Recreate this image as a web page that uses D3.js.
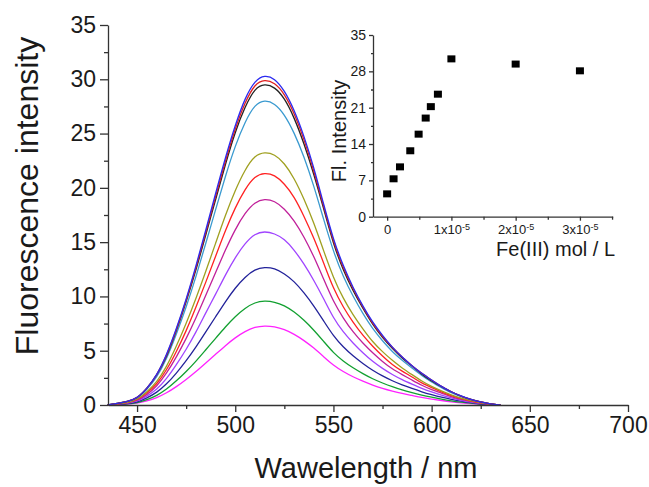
<!DOCTYPE html>
<html>
<head>
<meta charset="utf-8">
<script src="https://cdn.jsdelivr.net/npm/d3@7"></script>
<style>
  body { margin: 0; background: #fff; }
  svg { display: block; font-family: "Liberation Sans", Arial, sans-serif; }
  .axis .domain, .axis line { stroke: #333; stroke-width: 1.3; }
  .axis text { fill: #1a1a1a; }
</style>
</head>
<body>
<svg width="649" height="487"></svg>
<script>
// emission spectra, wavelength grid in nm
var wavelengths = [435, 440, 445, 450, 455, 460, 465, 470, 475, 480, 485, 490, 495, 500, 505, 510, 515, 520, 525, 530,
    535, 540, 545, 550, 555, 560, 565, 570, 575, 580, 585, 590, 595, 600, 605, 610, 615, 620, 625, 630, 635];

var specBlue = [0, 0.15, 0.30, 0.61, 1.5, 2.7, 4.6, 7.0, 9.7, 12.8, 16.1, 19.5, 22.8, 25.8, 28.3, 29.9, 30.4, 30.1, 29.0, 27.2,
    24.8, 21.9, 18.5, 15.2, 12.8, 10.8, 9.1, 7.6, 6.4, 5.3, 4.4, 3.6, 2.9, 2.3, 1.7, 1.2, 0.82, 0.52, 0.27, 0.09, 0];
var specRed = [0, 0.15, 0.30, 0.60, 1.5, 2.7, 4.5, 6.9, 9.6, 12.6, 15.9, 19.2, 22.5, 25.5, 27.9, 29.6, 30.0, 29.7, 28.7, 26.9,
    24.5, 21.6, 18.3, 15.0, 12.6, 10.7, 9.0, 7.5, 6.3, 5.3, 4.4, 3.6, 2.9, 2.3, 1.7, 1.2, 0.81, 0.51, 0.27, 0.09, 0];
var specBlack = [0, 0.15, 0.30, 0.59, 1.5, 2.7, 4.4, 6.8, 9.5, 12.4, 15.7, 18.9, 22.2, 25.2, 27.5, 29.2, 29.6, 29.3, 28.3, 26.5,
    24.1, 21.3, 18.1, 14.8, 12.4, 10.5, 8.9, 7.4, 6.2, 5.2, 4.3, 3.6, 2.8, 2.2, 1.7, 1.2, 0.80, 0.50, 0.27, 0.09, 0];
var specSky = [0, 0.14, 0.28, 0.56, 1.4, 2.5, 4.2, 6.5, 9.0, 11.8, 14.9, 18.0, 21.1, 23.9, 26.1, 27.7, 28.1, 27.8, 26.8, 25.1,
    22.9, 20.2, 17.1, 14.1, 11.8, 10.0, 8.4, 7.0, 5.9, 4.9, 4.1, 3.4, 2.7, 2.1, 1.6, 1.1, 0.76, 0.48, 0.25, 0.08, 0];
var specOlive = [0, 0.12, 0.23, 0.47, 1.2, 2.1, 3.5, 5.4, 7.5, 9.8, 12.3, 14.9, 17.5, 19.8, 21.7, 23.0, 23.3, 23.1, 22.3, 20.9,
    19.0, 16.8, 14.2, 11.7, 9.8, 8.3, 7.0, 5.8, 4.9, 4.1, 3.4, 2.8, 2.2, 1.7, 1.3, 0.93, 0.63, 0.40, 0.21, 0.07, 0];
var specRed2 = [0, 0.11, 0.21, 0.43, 1.1, 1.9, 3.2, 4.9, 6.8, 9.0, 11.3, 13.7, 16.1, 18.2, 19.9, 21.1, 21.4, 21.2, 20.4, 19.2,
    17.4, 15.4, 13.1, 10.7, 9.0, 7.6, 6.4, 5.4, 4.5, 3.7, 3.1, 2.6, 2.0, 1.6, 1.2, 0.86, 0.58, 0.36, 0.19, 0.06, 0];
var specPurple = [0, 0.10, 0.19, 0.38, 0.95, 1.7, 2.9, 4.4, 6.1, 8.0, 10.1, 12.2, 14.3, 16.2, 17.7, 18.7, 19.0, 18.8, 18.1, 17.0,
    15.5, 13.7, 11.6, 9.5, 8.0, 6.7, 5.7, 4.8, 4.0, 3.3, 2.8, 2.3, 1.8, 1.4, 1.1, 0.76, 0.51, 0.32, 0.17, 0.06, 0];
var specViolet = [0, 0.08, 0.16, 0.32, 0.80, 1.4, 2.4, 3.7, 5.1, 6.7, 8.5, 10.2, 12.0, 13.6, 14.9, 15.8, 16.0, 15.8, 15.3, 14.3,
    13.0, 11.5, 9.8, 8.0, 6.7, 5.7, 4.8, 4.0, 3.36, 2.8, 2.32, 1.92, 1.52, 1.2, 0.90, 0.64, 0.43, 0.27, 0.14, 0.05, 0];
var specNavy = [0, 0.06, 0.13, 0.25, 0.64, 1.14, 1.91, 2.92, 4.06, 5.33, 6.73, 8.13, 9.53, 10.8, 11.8, 12.5, 12.7, 12.6, 12.1, 11.4,
    10.35, 9.14, 7.75, 6.35, 5.33, 4.51, 3.81, 3.18, 2.67, 2.22, 1.84, 1.52, 1.21, 0.95, 0.71, 0.51, 0.34, 0.22, 0.11, 0.04, 0];
var specGreen = [0, 0.05, 0.10, 0.19, 0.48, 0.86, 1.44, 2.21, 3.07, 4.03, 5.09, 6.14, 7.2, 8.16, 8.93, 9.46, 9.6, 9.5, 9.17, 8.59,
    7.82, 6.91, 5.86, 4.8, 4.03, 3.41, 2.88, 2.4, 2.02, 1.68, 1.39, 1.15, 0.91, 0.72, 0.54, 0.38, 0.26, 0.16, 0.09, 0.03, 0];
var specMagenta = [0, 0.04, 0.07, 0.15, 0.37, 0.66, 1.10, 1.68, 2.34, 3.07, 3.87, 4.67, 5.48, 6.21, 6.79, 7.19, 7.3, 7.23, 6.97, 6.53,
    5.95, 5.26, 4.45, 3.65, 3.07, 2.59, 2.19, 1.83, 1.53, 1.28, 1.06, 0.88, 0.69, 0.55, 0.41, 0.29, 0.20, 0.12, 0.07, 0.02, 0];

var spectra = [specMagenta, specGreen, specNavy, specViolet, specPurple, specRed2, specOlive, specSky, specBlack, specRed, specBlue];
var spectraColors = ['#ff22ff', '#12a030', '#22229a', '#a044ff', '#c0209a', '#ff2222', '#a0a020', '#3a9ad0', '#222222', '#e02020', '#2b2bf0'];

var xTicks = [450, 500, 550, 600, 650, 700];
var xMinorTicks = [475, 525, 575, 625, 675];
var yTicks = [0, 5, 10, 15, 20, 25, 30, 35];
var yMinorTicks = [2.5, 7.5, 12.5, 17.5, 22.5, 27.5, 32.5];

// inset: titration points
var feConc = [0, 1e-6, 2e-6, 3.6e-6, 4.9e-6, 6e-6, 6.8e-6, 7.9e-6, 1e-5, 2e-5, 3e-5];
var flIntensity = [4.4, 7.3, 9.6, 12.7, 15.9, 19.0, 21.2, 23.6, 30.4, 29.4, 28.1];
var insetXTicks = [0, 1e-5, 2e-5, 3e-5];
var insetXMinor = [0.5e-5, 1.5e-5, 2.5e-5, 3.5e-5];
var insetYTicks = [0, 7, 14, 21, 28, 35];
var insetYMinor = [3.5, 10.5, 17.5, 24.5, 31.5];

var svg = d3.select('svg');

// main chart scales
var xMain = d3.scaleLinear().domain([435.2, 700]).range([108, 628]);
var yMain = d3.scaleLinear().domain([0, 35]).range([405, 25]);

var line = d3.line()
    .x(function (d) { return xMain(d[0]); })
    .y(function (d) { return yMain(d[1]); })
    .curve(d3.curveBasis);

svg.append('g').selectAll('path')
    .data(spectra)
    .enter()
    .append('path')
    .attr('d', function (s) { return line(wavelengths.map(function (w, i) { return [w, s[i]]; })); })
    .attr('fill', 'none')
    .attr('stroke', function (_, i) { return spectraColors[i]; })
    .attr('stroke-width', 1.3);

// main axes
svg.append('g').attr('class', 'axis')
    .attr('transform', 'translate(0,405)')
    .call(d3.axisBottom(xMain).tickValues(xTicks).tickSize(7).tickSizeOuter(0).tickPadding(5))
    .selectAll('text').style('font-size', '23px');
svg.append('g').attr('class', 'axis minor')
    .attr('transform', 'translate(0,405)')
    .call(d3.axisBottom(xMain).tickValues(xMinorTicks).tickSize(4).tickFormat(''))
    .select('.domain').remove();

svg.append('g').attr('class', 'axis')
    .attr('transform', 'translate(108,0)')
    .call(d3.axisLeft(yMain).tickValues(yTicks).tickSize(8).tickSizeOuter(0).tickPadding(4))
    .selectAll('text').style('font-size', '23px');
svg.append('g').attr('class', 'axis minor')
    .attr('transform', 'translate(108,0)')
    .call(d3.axisLeft(yMain).tickValues(yMinorTicks).tickSize(4).tickFormat(''))
    .select('.domain').remove();

svg.append('text')
    .attr('x', 366).attr('y', 478)
    .attr('text-anchor', 'middle')
    .style('font-size', '29px').attr('fill', '#1a1a1a')
    .text('Wawelength / nm');

svg.append('text')
    .attr('transform', 'translate(38,196) rotate(-90)')
    .attr('text-anchor', 'middle')
    .style('font-size', '32px').attr('fill', '#1a1a1a')
    .text('Fluorescence intensity');

// inset
var xIn = d3.scaleLinear().domain([-0.22e-5, 3.51e-5]).range([373, 612.7]);
var yIn = d3.scaleLinear().domain([0, 35]).range([216.7, 35]);

var insetX = svg.append('g').attr('class', 'axis')
    .attr('transform', 'translate(0,216.7)')
    .call(d3.axisBottom(xIn).tickValues(insetXTicks).tickSize(4).tickSizeOuter(0).tickPadding(5).tickFormat(''));
svg.append('g').attr('class', 'axis minor')
    .attr('transform', 'translate(0,216.7)')
    .call(d3.axisBottom(xIn).tickValues(insetXMinor).tickSize(3).tickFormat(''))
    .select('.domain').remove();

// tick labels like 1x10^-5
insetX.selectAll('.tick text').each(function (d) {
    var t = d3.select(this).style('font-size', '13px').attr('dy', '0.9em').attr('y', 6);
    if (d === 0) {
        t.text('0');
        return;
    }
    var m = Math.round(d / 1e-5);
    t.append('tspan').text(m + 'x10');
    t.append('tspan').attr('dy', '-0.45em').style('font-size', '9px').text('-5');
});

svg.append('g').attr('class', 'axis')
    .attr('transform', 'translate(373,0)')
    .call(d3.axisLeft(yIn).tickValues(insetYTicks).tickSize(4).tickSizeOuter(0).tickPadding(3))
    .selectAll('text').style('font-size', '14px');
svg.append('g').attr('class', 'axis minor')
    .attr('transform', 'translate(373,0)')
    .call(d3.axisLeft(yIn).tickValues(insetYMinor).tickSize(2).tickFormat(''))
    .select('.domain').remove();

svg.append('g').selectAll('rect')
    .data(feConc)
    .enter()
    .append('rect')
    .attr('x', function (d) { return xIn(d) - 4; })
    .attr('y', function (d, i) { return yIn(flIntensity[i]) - 3.5; })
    .attr('width', 8)
    .attr('height', 7)
    .attr('fill', '#000');

svg.append('text')
    .attr('x', 615).attr('y', 256)
    .attr('text-anchor', 'end')
    .style('font-size', '20px').attr('fill', '#1a1a1a')
    .text('Fe(III) mol / L');

svg.append('text')
    .attr('transform', 'translate(346,131) rotate(-90)')
    .attr('text-anchor', 'middle')
    .style('font-size', '20px').attr('fill', '#1a1a1a')
    .text('Fl. Intensity');
</script>
</body>
</html>
